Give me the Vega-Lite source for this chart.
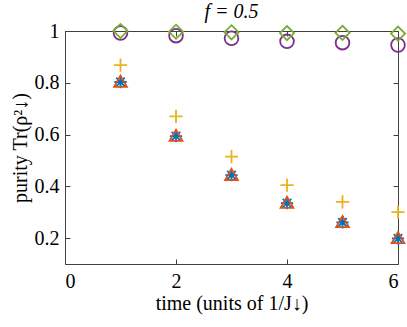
{
  "$schema": "https://vega.github.io/schema/vega-lite/v6.json",
  "width": 333,
  "height": 233,
  "autosize": "none",
  "padding": {"left": 65, "top": 31, "right": 9, "bottom": 63},
  "config": {
    "view": {"stroke": "#404040", "strokeWidth": 1},
    "font": "Liberation Serif"
  },
  "title": {"text": "f = 0.5", "font": "Liberation Serif", "fontSize": 20, "fontWeight": "normal", "fontStyle": "italic", "color": "#000", "offset": -2},
  "data": {"values": [
    {"t": 1, "v": 0.803, "s": "a"}, {"t": 2, "v": 0.594, "s": "a"}, {"t": 3, "v": 0.443, "s": "a"}, {"t": 4, "v": 0.335, "s": "a"}, {"t": 5, "v": 0.261, "s": "a"}, {"t": 6, "v": 0.199, "s": "a"},
    {"t": 1, "v": 0.803, "s": "b"}, {"t": 2, "v": 0.594, "s": "b"}, {"t": 3, "v": 0.443, "s": "b"}, {"t": 4, "v": 0.335, "s": "b"}, {"t": 5, "v": 0.261, "s": "b"}, {"t": 6, "v": 0.199, "s": "b"},
    {"t": 1, "v": 0.868, "s": "c"}, {"t": 2, "v": 0.67, "s": "c"}, {"t": 3, "v": 0.515, "s": "c"}, {"t": 4, "v": 0.405, "s": "c"}, {"t": 5, "v": 0.34, "s": "c"}, {"t": 6, "v": 0.30, "s": "c"},
    {"t": 1, "v": 0.992, "s": "d"}, {"t": 2, "v": 0.982, "s": "d"}, {"t": 3, "v": 0.972, "s": "d"}, {"t": 4, "v": 0.96, "s": "d"}, {"t": 5, "v": 0.955, "s": "d"}, {"t": 6, "v": 0.946, "s": "d"},
    {"t": 1, "v": 1.0, "s": "e"}, {"t": 2, "v": 0.997, "s": "e"}, {"t": 3, "v": 0.995, "s": "e"}, {"t": 4, "v": 0.992, "s": "e"}, {"t": 5, "v": 0.993, "s": "e"}, {"t": 6, "v": 0.99, "s": "e"}
  ]},
  "layer": [
    {
      "mark": {"type": "point", "filled": false, "strokeWidth": 1.8, "opacity": 1, "clip": false},
      "encoding": {
        "x": {"field": "t", "type": "quantitative", "scale": {"domain": [0, 6], "nice": false, "zero": false},
          "axis": {"values": [0, 2, 4, 6], "title": "time (units of 1/J↓)", "grid": false, "domain": false, "tickSize": -5, "tickColor": "#404040", "labelPadding": 12, "labelFontSize": 20, "labelColor": "#000", "labelFont": "Liberation Serif", "titleFont": "Liberation Serif", "titleFontSize": 20, "titleFontWeight": "normal", "titleColor": "#000", "titlePadding": 2}},
        "y": {"field": "v", "type": "quantitative", "scale": {"domain": [0.1, 1], "nice": false, "zero": false},
          "axis": {"values": [0.2, 0.4, 0.6, 0.8, 1], "format": ".1~f", "title": "purity Tr(ρ²↓)", "grid": false, "domain": false, "tickSize": -5, "tickColor": "#404040", "labelPadding": 11, "labelFontSize": 20, "labelColor": "#000", "labelFont": "Liberation Serif", "titleFont": "Liberation Serif", "titleFontSize": 20, "titleFontWeight": "normal", "titleColor": "#000", "titlePadding": 4}},
        "shape": {"field": "s", "type": "nominal", "legend": null, "scale": {"domain": ["a", "b", "c", "d", "e"], "range": [
          "M-1,0L1,0M0,-1L0,1M-0.7,-0.7L0.7,0.7M-0.7,0.7L0.7,-0.7",
          "M0,-1L1,0.75L-1,0.75Z",
          "M-1,0L1,0M0,-1L0,1",
          "circle",
          "diamond"
        ]}},
        "size": {"field": "s", "type": "nominal", "legend": null, "scale": {"domain": ["a", "b", "c", "d", "e"], "range": [150, 200, 196, 140, 200]}},
        "color": {"field": "s", "type": "nominal", "legend": null, "scale": {"domain": ["a", "b", "c", "d", "e"], "range": ["#0072BD", "#D95319", "#EDB120", "#7E2F8E", "#77AC30"]}}
      }
    },
    {
      "mark": {"type": "point", "opacity": 0},
      "encoding": {
        "x": {"field": "t", "type": "quantitative", "scale": {"domain": [0, 6], "nice": false, "zero": false},
          "axis": {"orient": "top", "values": [0, 2, 4, 6], "labels": false, "title": null, "grid": false, "domain": false, "tickSize": -5, "tickColor": "#404040"}},
        "y": {"field": "v", "type": "quantitative", "scale": {"domain": [0.1, 1], "nice": false, "zero": false},
          "axis": {"orient": "right", "values": [0.2, 0.4, 0.6, 0.8, 1], "labels": false, "title": null, "grid": false, "domain": false, "tickSize": -5, "tickColor": "#404040"}}
      }
    }
  ],
  "resolve": {"axis": {"x": "independent", "y": "independent"}}
}
